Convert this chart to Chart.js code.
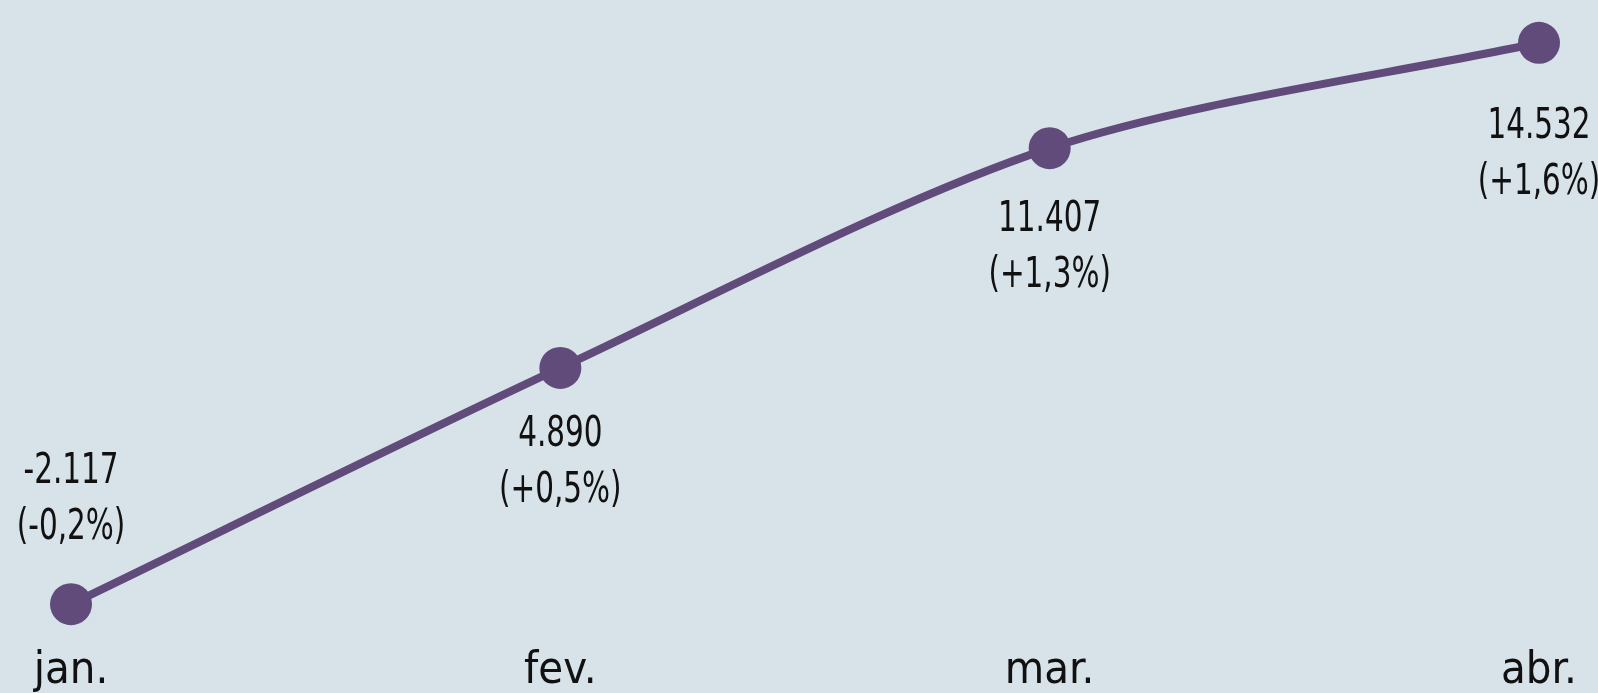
<!DOCTYPE html>
<html>
<head>
<meta charset="utf-8">
<script src="https://cdn.jsdelivr.net/npm/chart.js@4.4.1/dist/chart.umd.min.js"></script>
<style>
    html, body { margin: 0; padding: 0; background: #d7e2e9; }
    #wrap { width: 1598px; height: 693px; }
</style>
</head>
<body>
<div id="wrap"><canvas id="saldoChart"></canvas></div>
<script>
// Chart data
const months = ['jan.', 'fev.', 'mar.', 'abr.'];
const saldo = [-2117, 4890, 11407, 14532];
const variacao = [-0.2, 0.5, 1.3, 1.6];

const FONT = "'DejaVu Sans Condensed', 'Liberation Sans Narrow', sans-serif";
const LINE_COLOR = '#614b7b';

function formatThousands(n) {
    const s = Math.abs(n).toString().replace(/\B(?=(\d{3})+(?!\d))/g, '.');
    return (n < 0 ? '-' : '') + s;
}

function formatPct(p) {
    const s = Math.abs(p).toFixed(1).replace('.', ',');
    return '(' + (p < 0 ? '-' : '+') + s + '%)';
}

// Draws the two-line value labels next to each point (squeezed to look condensed)
const valueLabels = {
    id: 'valueLabels',
    afterDatasetsDraw(chart, args, opts) {
        const ctx = chart.ctx;
        const meta = chart.getDatasetMeta(0);
        ctx.save();
        ctx.font = opts.size + 'px ' + FONT;
        ctx.fillStyle = '#111';
        ctx.textAlign = 'center';
        ctx.textBaseline = 'middle';
        meta.data.forEach((pt, i) => {
            const y = pt.y + opts.offsets[i];
            ctx.save();
            ctx.translate(pt.x, 0);
            ctx.scale(opts.squeeze, 1);
            ctx.fillText(formatThousands(saldo[i]), 0, y);
            ctx.fillText(formatPct(variacao[i]), 0, y + opts.lineGap);
            ctx.restore();
        });
        ctx.restore();
    }
};

new Chart(document.getElementById('saldoChart'), {
    type: 'line',
    data: {
        labels: months,
        datasets: [{
            data: saldo,
            borderColor: LINE_COLOR,
            backgroundColor: LINE_COLOR,
            borderWidth: 8,
            tension: 0.3,
            pointRadius: 21,
            pointHoverRadius: 21,
            pointBorderWidth: 0,
            pointBackgroundColor: LINE_COLOR
        }]
    },
    options: {
        responsive: true,
        maintainAspectRatio: false,
        animation: false,
        layout: { padding: { left: 71, right: 59, top: 0, bottom: -8 } },
        scales: {
            x: {
                offset: false,
                grid: { display: false, drawTicks: false },
                border: { display: false },
                ticks: {
                    color: '#111',
                    padding: 11,
                    font: { family: FONT, size: 45, lineHeight: 0.85 }
                }
            },
            y: {
                display: false,
                min: -3201,
                max: 15178
            }
        },
        plugins: {
            legend: { display: false },
            tooltip: { enabled: false },
            valueLabels: { size: 42, squeeze: 0.78, lineGap: 56, offsets: [-132, 67, 72, 84] }
        }
    },
    plugins: [valueLabels]
});
</script>
</body>
</html>
